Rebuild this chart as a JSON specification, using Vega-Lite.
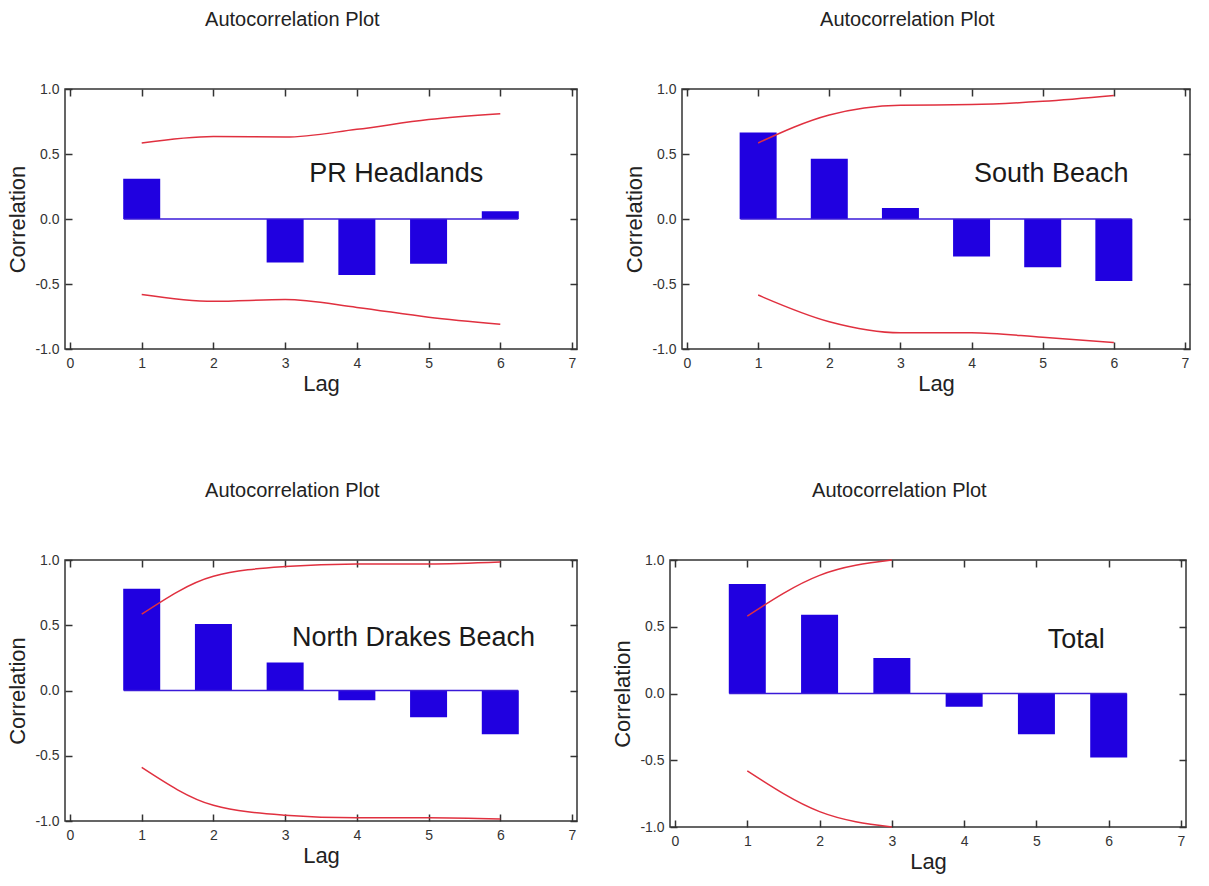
{
  "$schema": "https://vega.github.io/schema/vega-lite/v6.json",
  "padding": {"left": 6, "top": 9, "right": 5, "bottom": 5},
  "background": "white",
  "config": {
    "view": {"stroke": "#333333", "strokeWidth": 1.5},
    "axis": {
      "grid": false, "domain": false,
      "labelFont": "Liberation Sans", "labelFontSize": 14, "labelColor": "#333333",
      "titleFont": "Liberation Sans", "titleFontSize": 22, "titleFontWeight": "normal", "titleColor": "#222222",
      "tickColor": "#333333", "tickSize": -7, "tickWidth": 1.5,
      "labelOverlap": false, "labelFlush": false, "labelPadding": 14, "titlePadding": 3
    },
    "axisY": {"labelPadding": 13, "titlePadding": 5},
    "title": {"font": "Liberation Sans", "fontSize": 20, "fontWeight": "normal", "color": "#222222", "offset": 52, "frame": "bounds"}
  },
  "datasets": {
    "pr": [
      {"lag": 1, "r": 0.31, "upper": 0.585, "lower": -0.58},
      {"lag": 2, "r": 0.0, "upper": 0.635, "lower": -0.633},
      {"lag": 3, "r": -0.335, "upper": 0.63, "lower": -0.62},
      {"lag": 4, "r": -0.43, "upper": 0.69, "lower": -0.68},
      {"lag": 5, "r": -0.345, "upper": 0.765, "lower": -0.755},
      {"lag": 6, "r": 0.06, "upper": 0.81, "lower": -0.81}
    ],
    "sb": [
      {"lag": 1, "r": 0.665, "upper": 0.585, "lower": -0.585},
      {"lag": 2, "r": 0.464, "upper": 0.8, "lower": -0.79},
      {"lag": 3, "r": 0.085, "upper": 0.875, "lower": -0.875},
      {"lag": 4, "r": -0.289, "upper": 0.88, "lower": -0.875},
      {"lag": 5, "r": -0.371, "upper": 0.905, "lower": -0.91},
      {"lag": 6, "r": -0.477, "upper": 0.95, "lower": -0.95}
    ],
    "nd": [
      {"lag": 1, "r": 0.78, "upper": 0.585, "lower": -0.59},
      {"lag": 2, "r": 0.51, "upper": 0.875, "lower": -0.88},
      {"lag": 3, "r": 0.215, "upper": 0.95, "lower": -0.955},
      {"lag": 4, "r": -0.075, "upper": 0.97, "lower": -0.975},
      {"lag": 5, "r": -0.205, "upper": 0.97, "lower": -0.975},
      {"lag": 6, "r": -0.335, "upper": 0.985, "lower": -0.985}
    ],
    "tot": [
      {"lag": 1, "r": 0.82, "upper": 0.58, "lower": -0.58},
      {"lag": 2, "r": 0.59, "upper": 0.885, "lower": -0.885},
      {"lag": 3, "r": 0.265, "upper": 1.0, "lower": -1.0},
      {"lag": 4, "r": -0.1},
      {"lag": 5, "r": -0.305},
      {"lag": 6, "r": -0.48}
    ],
    "labels": [
      {"panel": "pr", "label": "PR Headlands"},
      {"panel": "sb", "label": "South Beach"},
      {"panel": "nd", "label": "North Drakes Beach"},
      {"panel": "tot", "label": "Total"}
    ]
  },
  "spacing": 85,
  "vconcat": [
    {
      "bounds": "flush",
      "spacing": 105,
      "hconcat": [
        {
          "width": 512, "height": 260,
          "title": "Autocorrelation Plot",
          "resolve": {"axis": {"x": "independent", "y": "independent"}},
          "layer": [
            {"data": {"name": "pr"}, "mark": {"type": "bar", "size": 37, "color": "#2000e0"},
             "encoding": {
               "x": {"field": "lag", "type": "quantitative", "scale": {"domain": [0, 7], "nice": false, "zero": false}, "axis": {"orient": "bottom", "title": "Lag", "values": [0,1,2,3,4,5,6,7], "format": "d"}},
               "y": {"field": "r", "type": "quantitative", "scale": {"domain": [-1, 1], "nice": false}, "axis": {"orient": "left", "title": "Correlation", "values": [-1,-0.5,0,0.5,1], "format": ".1f", "labelExpr": "replace(datum.label, '−', '-')"}},
               "y2": {"datum": 0}}},
            {"data": {"name": "labels"}, "transform": [{"filter": "datum.panel === 'pr'"}], "mark": {"type": "rule", "color": "#3a1ad8", "strokeWidth": 1.5},
             "encoding": {"x": {"datum": 0.75, "type": "quantitative", "axis": null}, "x2": {"datum": 6.25}, "y": {"datum": 0, "type": "quantitative", "axis": null}}},
            {"data": {"name": "pr"}, "mark": {"type": "line", "color": "#e0303f", "strokeWidth": 1.5, "interpolate": "monotone"},
             "encoding": {
               "x": {"field": "lag", "type": "quantitative", "axis": {"orient": "top", "labels": false, "title": null, "values": [0,1,2,3,4,5,6,7]}},
               "y": {"field": "upper", "type": "quantitative", "axis": {"orient": "right", "labels": false, "title": null, "values": [-1,-0.5,0,0.5,1]}}}},
            {"data": {"name": "pr"}, "mark": {"type": "line", "color": "#e0303f", "strokeWidth": 1.5, "interpolate": "monotone"},
             "encoding": {
               "x": {"field": "lag", "type": "quantitative", "axis": null},
               "y": {"field": "lower", "type": "quantitative", "axis": null}}},
            {"data": {"name": "labels"}, "transform": [{"filter": "datum.panel === 'pr'"}], "mark": {"type": "text", "font": "Liberation Sans", "fontSize": 27, "color": "#1a1a1a", "align": "center", "baseline": "middle"},
             "encoding": {"x": {"datum": 4.55, "type": "quantitative", "axis": null}, "y": {"datum": 0.35, "type": "quantitative", "axis": null}, "text": {"field": "label"}}}
          ]
        },
        {
          "width": 508, "height": 260,
          "title": "Autocorrelation Plot",
          "resolve": {"axis": {"x": "independent", "y": "independent"}},
          "layer": [
            {"data": {"name": "sb"}, "mark": {"type": "bar", "size": 37, "color": "#2000e0"},
             "encoding": {
               "x": {"field": "lag", "type": "quantitative", "scale": {"domain": [0, 7], "nice": false, "zero": false}, "axis": {"orient": "bottom", "title": "Lag", "values": [0,1,2,3,4,5,6,7], "format": "d"}},
               "y": {"field": "r", "type": "quantitative", "scale": {"domain": [-1, 1], "nice": false}, "axis": {"orient": "left", "title": "Correlation", "values": [-1,-0.5,0,0.5,1], "format": ".1f", "labelExpr": "replace(datum.label, '−', '-')"}},
               "y2": {"datum": 0}}},
            {"data": {"name": "labels"}, "transform": [{"filter": "datum.panel === 'sb'"}], "mark": {"type": "rule", "color": "#3a1ad8", "strokeWidth": 1.5},
             "encoding": {"x": {"datum": 0.75, "type": "quantitative", "axis": null}, "x2": {"datum": 6.25}, "y": {"datum": 0, "type": "quantitative", "axis": null}}},
            {"data": {"name": "sb"}, "mark": {"type": "line", "color": "#e0303f", "strokeWidth": 1.5, "interpolate": "monotone"},
             "encoding": {
               "x": {"field": "lag", "type": "quantitative", "axis": {"orient": "top", "labels": false, "title": null, "values": [0,1,2,3,4,5,6,7]}},
               "y": {"field": "upper", "type": "quantitative", "axis": {"orient": "right", "labels": false, "title": null, "values": [-1,-0.5,0,0.5,1]}}}},
            {"data": {"name": "sb"}, "mark": {"type": "line", "color": "#e0303f", "strokeWidth": 1.5, "interpolate": "monotone"},
             "encoding": {
               "x": {"field": "lag", "type": "quantitative", "axis": null},
               "y": {"field": "lower", "type": "quantitative", "axis": null}}},
            {"data": {"name": "labels"}, "transform": [{"filter": "datum.panel === 'sb'"}], "mark": {"type": "text", "font": "Liberation Sans", "fontSize": 27, "color": "#1a1a1a", "align": "center", "baseline": "middle"},
             "encoding": {"x": {"datum": 5.12, "type": "quantitative", "axis": null}, "y": {"datum": 0.35, "type": "quantitative", "axis": null}, "text": {"field": "label"}}}
          ]
        }
      ]
    },
    {
      "bounds": "flush",
      "spacing": 93,
      "hconcat": [
        {
          "width": 512, "height": 261,
          "title": "Autocorrelation Plot",
          "resolve": {"axis": {"x": "independent", "y": "independent"}},
          "layer": [
            {"data": {"name": "nd"}, "mark": {"type": "bar", "size": 37, "color": "#2000e0"},
             "encoding": {
               "x": {"field": "lag", "type": "quantitative", "scale": {"domain": [0, 7], "nice": false, "zero": false}, "axis": {"orient": "bottom", "title": "Lag", "values": [0,1,2,3,4,5,6,7], "format": "d"}},
               "y": {"field": "r", "type": "quantitative", "scale": {"domain": [-1, 1], "nice": false}, "axis": {"orient": "left", "title": "Correlation", "values": [-1,-0.5,0,0.5,1], "format": ".1f", "labelExpr": "replace(datum.label, '−', '-')"}},
               "y2": {"datum": 0}}},
            {"data": {"name": "labels"}, "transform": [{"filter": "datum.panel === 'nd'"}], "mark": {"type": "rule", "color": "#3a1ad8", "strokeWidth": 1.5},
             "encoding": {"x": {"datum": 0.75, "type": "quantitative", "axis": null}, "x2": {"datum": 6.25}, "y": {"datum": 0, "type": "quantitative", "axis": null}}},
            {"data": {"name": "nd"}, "mark": {"type": "line", "color": "#e0303f", "strokeWidth": 1.5, "interpolate": "monotone"},
             "encoding": {
               "x": {"field": "lag", "type": "quantitative", "axis": {"orient": "top", "labels": false, "title": null, "values": [0,1,2,3,4,5,6,7]}},
               "y": {"field": "upper", "type": "quantitative", "axis": {"orient": "right", "labels": false, "title": null, "values": [-1,-0.5,0,0.5,1]}}}},
            {"data": {"name": "nd"}, "mark": {"type": "line", "color": "#e0303f", "strokeWidth": 1.5, "interpolate": "monotone"},
             "encoding": {
               "x": {"field": "lag", "type": "quantitative", "axis": null},
               "y": {"field": "lower", "type": "quantitative", "axis": null}}},
            {"data": {"name": "labels"}, "transform": [{"filter": "datum.panel === 'nd'"}], "mark": {"type": "text", "font": "Liberation Sans", "fontSize": 27, "color": "#1a1a1a", "align": "center", "baseline": "middle"},
             "encoding": {"x": {"datum": 4.79, "type": "quantitative", "axis": null}, "y": {"datum": 0.4, "type": "quantitative", "axis": null}, "text": {"field": "label"}}}
          ]
        },
        {
          "width": 516, "height": 267,
          "title": "Autocorrelation Plot",
          "resolve": {"axis": {"x": "independent", "y": "independent"}},
          "layer": [
            {"data": {"name": "tot"}, "mark": {"type": "bar", "size": 37, "color": "#2000e0"},
             "encoding": {
               "x": {"field": "lag", "type": "quantitative", "scale": {"domain": [0, 7], "nice": false, "zero": false}, "axis": {"orient": "bottom", "title": "Lag", "values": [0,1,2,3,4,5,6,7], "format": "d"}},
               "y": {"field": "r", "type": "quantitative", "scale": {"domain": [-1, 1], "nice": false}, "axis": {"orient": "left", "title": "Correlation", "values": [-1,-0.5,0,0.5,1], "format": ".1f", "labelExpr": "replace(datum.label, '−', '-')"}},
               "y2": {"datum": 0}}},
            {"data": {"name": "labels"}, "transform": [{"filter": "datum.panel === 'tot'"}], "mark": {"type": "rule", "color": "#3a1ad8", "strokeWidth": 1.5},
             "encoding": {"x": {"datum": 0.75, "type": "quantitative", "axis": null}, "x2": {"datum": 6.25}, "y": {"datum": 0, "type": "quantitative", "axis": null}}},
            {"data": {"name": "tot"}, "mark": {"type": "line", "color": "#e0303f", "strokeWidth": 1.5, "interpolate": "monotone"},
             "encoding": {
               "x": {"field": "lag", "type": "quantitative", "axis": {"orient": "top", "labels": false, "title": null, "values": [0,1,2,3,4,5,6,7]}},
               "y": {"field": "upper", "type": "quantitative", "axis": {"orient": "right", "labels": false, "title": null, "values": [-1,-0.5,0,0.5,1]}}}},
            {"data": {"name": "tot"}, "mark": {"type": "line", "color": "#e0303f", "strokeWidth": 1.5, "interpolate": "monotone"},
             "encoding": {
               "x": {"field": "lag", "type": "quantitative", "axis": null},
               "y": {"field": "lower", "type": "quantitative", "axis": null}}},
            {"data": {"name": "labels"}, "transform": [{"filter": "datum.panel === 'tot'"}], "mark": {"type": "text", "font": "Liberation Sans", "fontSize": 27, "color": "#1a1a1a", "align": "center", "baseline": "middle"},
             "encoding": {"x": {"datum": 5.55, "type": "quantitative", "axis": null}, "y": {"datum": 0.4, "type": "quantitative", "axis": null}, "text": {"field": "label"}}}
          ]
        }
      ]
    }
  ]
}
